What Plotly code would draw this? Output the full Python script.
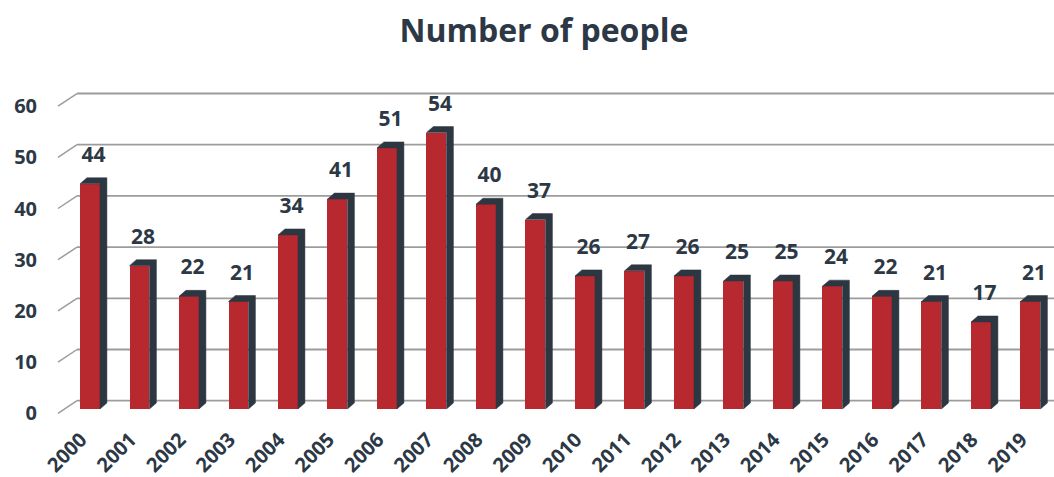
import plotly.graph_objects as go

# Data
years = [str(y) for y in range(2000, 2020)]
people = [44, 28, 22, 21, 34, 41, 51, 54, 40, 37, 26, 27, 26, 25, 25, 24, 22, 21, 17, 21]
y_ticks = [0, 10, 20, 30, 40, 50, 60]

# Styling
RED = "#B8282F"
DARK = "#2D3742"
TEXT = "#2C3845"
GRID = "#9C9C9C"
FONT = "Open Sans"

BAR_W = 0.404          # front face width (x units)
SIDE_DX = 0.14         # bar depth along x
SIDE_DY = 1.17         # bar depth along y
WALL_X_FRONT = -0.646  # front edge of the left wall
WALL_X_BACK = -0.263   # back edge of the left wall
FRONT_DY = -0.84       # front axis offset from the bar plane
BACK_DY = 1.62         # back wall offset from the bar plane
LABEL_DX = -0.18       # rotated year labels sit slightly left of the bar centre
X_RANGE = [-0.808, 19.475]
Y_RANGE = [-2.15, 64.26]

x_pos = list(range(len(years)))

# Right side + top of every bar, as one multi-polygon
side_x, side_y = [], []
for i, v in zip(x_pos, people):
    xl, xr = i - BAR_W / 2, i + BAR_W / 2
    side_x += [xr, xr + SIDE_DX, xr + SIDE_DX, xl + SIDE_DX, xl, xr, xr, None]
    side_y += [0, SIDE_DY, v + SIDE_DY, v + SIDE_DY, v, v, 0, None]

fig = go.Figure()

fig.add_trace(go.Bar(
    x=x_pos, y=people, width=BAR_W,
    marker=dict(color=RED, line=dict(width=0)),
    hoverinfo="skip", showlegend=False,
))

fig.add_trace(go.Scatter(
    x=side_x, y=side_y, mode="lines", fill="toself",
    fillcolor=DARK, line=dict(width=0.5, color=DARK),
    hoverinfo="skip", showlegend=False,
))

fig.add_trace(go.Scatter(
    x=[i + SIDE_DX / 2 for i in x_pos],
    y=[v + 5.3 for v in people],
    mode="text", text=[str(v) for v in people],
    textposition="middle center",
    textfont=dict(family=FONT, size=21, color=TEXT, weight="bold"),
    hoverinfo="skip", showlegend=False, cliponaxis=False,
))

# Back-wall gridlines with the slanted left-wall segment
shapes = []
for v in y_ticks:
    shapes.append(dict(type="line", layer="below", xref="x", yref="y",
                       x0=WALL_X_FRONT, y0=v + FRONT_DY, x1=WALL_X_BACK, y1=v + BACK_DY,
                       line=dict(color=GRID, width=1.5)))
    shapes.append(dict(type="line", layer="below", xref="x", yref="y",
                       x0=WALL_X_BACK, y0=v + BACK_DY, x1=X_RANGE[1], y1=v + BACK_DY,
                       line=dict(color=GRID, width=1.8)))

fig.update_layout(
    width=1054, height=477,
    margin=dict(l=50, r=0, t=80, b=57, autoexpand=False),
    paper_bgcolor="white", plot_bgcolor="white",
    title=dict(text="Number of people", x=0.516, xref="container", xanchor="center",
               y=0.935, yref="container", yanchor="middle", automargin=False,
               font=dict(family=FONT, size=32, color=TEXT, weight="bold")),
    shapes=shapes,
    bargap=0,
    xaxis=dict(range=X_RANGE, showgrid=False, zeroline=False, showline=False,
               tickmode="array", tickvals=[i + LABEL_DX for i in x_pos],
               ticktext=years, tickangle=-45,
               ticks="", ticklabelstandoff=3, automargin=False,
               tickfont=dict(family=FONT, size=20, color=TEXT, weight="bold")),
    yaxis=dict(range=Y_RANGE, showgrid=False, zeroline=False, showline=False,
               tickmode="array", tickvals=[v + FRONT_DY for v in y_ticks],
               ticktext=[str(v) for v in y_ticks], ticks="", ticklabelstandoff=12,
               automargin=False,
               tickfont=dict(family=FONT, size=20, color=TEXT, weight="bold")),
)

fig.write_html("out.html")
